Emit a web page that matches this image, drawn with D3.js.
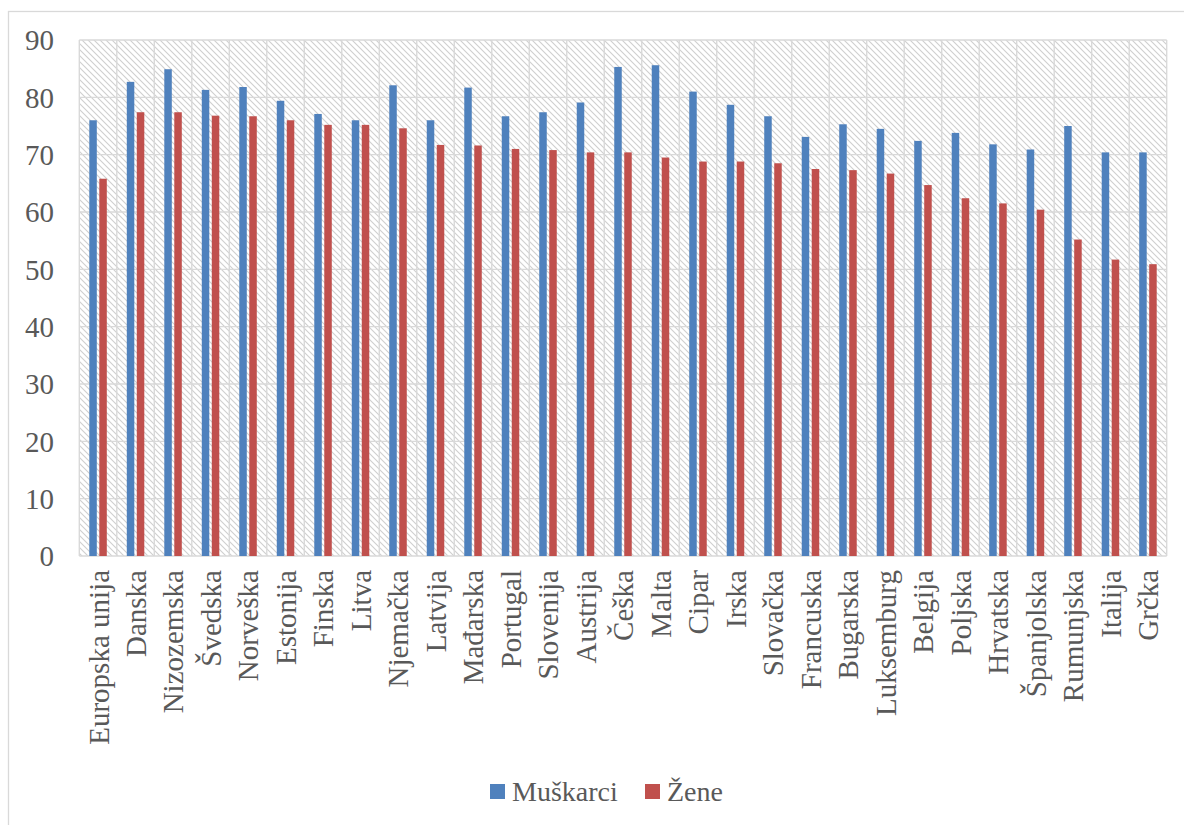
<!DOCTYPE html>
<html><head><meta charset="utf-8">
<script src="https://cdn.jsdelivr.net/npm/d3@7/dist/d3.min.js"></script>
<style>
html,body{margin:0;padding:0;background:#fff;}
svg{display:block;}
</style></head>
<body>
<svg id="chart" width="1184" height="825"></svg>
<script>
const categories = ["Europska unija","Danska","Nizozemska","Švedska","Norveška","Estonija","Finska","Litva","Njemačka","Latvija","Mađarska","Portugal","Slovenija","Austrija","Češka","Malta","Cipar","Irska","Slovačka","Francuska","Bugarska","Luksemburg","Belgija","Poljska","Hrvatska","Španjolska","Rumunjska","Italija","Grčka"];
const muskarci = [76.0,82.7,84.9,81.3,81.8,79.4,77.1,76.0,82.1,76.0,81.7,76.7,77.4,79.1,85.3,85.6,81.0,78.7,76.7,73.1,75.3,74.5,72.4,73.8,71.8,70.9,75.0,70.4,70.4];
const zene = [65.8,77.4,77.4,76.8,76.7,76.0,75.2,75.2,74.6,71.7,71.6,71.0,70.8,70.4,70.4,69.5,68.8,68.8,68.5,67.5,67.3,66.7,64.7,62.4,61.5,60.4,55.2,51.7,50.9];
const yTicks = [0,10,20,30,40,50,60,70,80,90];
const seriesNames = ["Muškarci","Žene"];
const colors = ["#4F81BD","#C0504D"];

(function(){
const FONT = '"Liberation Serif", "Times New Roman", serif';
const TXT = "#595959";
const svg = d3.select("#chart");
const pLeft = 79.3, pRight = 1166.7, pTop = 40, pBottom = 556;

svg.append("rect").attr("x",8.5).attr("y",11.5).attr("width",1200).attr("height",1200)
  .attr("fill","#fff").attr("stroke","#d9d9d9").attr("stroke-width",1.3);

const defs = svg.append("defs");
const pat = defs.append("pattern").attr("id","hatch").attr("patternUnits","userSpaceOnUse")
  .attr("width",6).attr("height",6);
pat.append("rect").attr("width",6).attr("height",6).attr("fill","#fff");
pat.append("path").attr("d","M0,0 L6,6 M-1,5 L1,7 M5,-1 L7,1")
  .attr("stroke","#cfcfcf").attr("stroke-width",1.1);

const x = d3.scaleBand().domain(categories).range([pLeft,pRight]).paddingInner(0).paddingOuter(0);
const y = d3.scaleLinear().domain([0,90]).range([pBottom,pTop]);

svg.append("rect").attr("x",pLeft).attr("y",pTop).attr("width",pRight-pLeft).attr("height",pBottom-pTop)
  .attr("fill","url(#hatch)");

const g = svg.append("g");
g.selectAll("line.h").data(yTicks).enter().append("line").attr("class","h")
  .attr("x1",pLeft).attr("x2",pRight).attr("y1",d=>y(d)).attr("y2",d=>y(d))
  .attr("stroke","#d9d9d9").attr("stroke-width",1.4);
const vb = categories.map(c=>x(c)).concat([pRight]);
g.selectAll("line.v").data(vb).enter().append("line").attr("class","v")
  .attr("x1",d=>d).attr("x2",d=>d).attr("y1",pTop).attr("y2",pBottom)
  .attr("stroke","#d9d9d9").attr("stroke-width",1.4);

const bw = 7.5, gap = 2.5;
const data = categories.map((c,i)=>({c, vals:[muskarci[i], zene[i]]}));
data.forEach(d=>{
  d.vals.forEach((v,k)=>{
    const cx = x(d.c) + x.bandwidth()/2;
    const bx = cx - (bw*2+gap)/2 + k*(bw+gap);
    svg.append("rect").attr("x",bx).attr("y",y(v)).attr("width",bw).attr("height",y(0)-y(v))
      .attr("fill",colors[k]);
  });
});

const yAxis = d3.axisLeft(y).tickValues(yTicks).tickSize(0).tickPadding(0);
const ya = svg.append("g").attr("transform",`translate(54,0)`).call(yAxis);
ya.select(".domain").remove();
ya.selectAll("text").style("font-size","29px").style("fill",TXT)
  .style("font-family",FONT).attr("dy","0.34em");

const xAxis = d3.axisBottom(x).tickSize(0).tickPadding(0);
const xa = svg.append("g").attr("transform",`translate(0,570)`).call(xAxis);
xa.select(".domain").remove();
xa.selectAll("text").style("font-size","29px").style("fill",TXT)
  .style("font-family",FONT)
  .attr("text-anchor","end").attr("transform","rotate(-90)")
  .attr("x",0).attr("y",0).attr("dy","0.36em");

const leg = svg.append("g");
const legX = [490, 645];
seriesNames.forEach((n,k)=>{
  leg.append("rect").attr("x",legX[k]).attr("y",784).attr("width",15).attr("height",15).attr("fill",colors[k]);
  leg.append("text").attr("x",legX[k]+22).attr("y",801).style("font-size","28px")
    .style("font-family",FONT).style("fill",TXT).text(n);
});
})();
</script>
</body></html>
